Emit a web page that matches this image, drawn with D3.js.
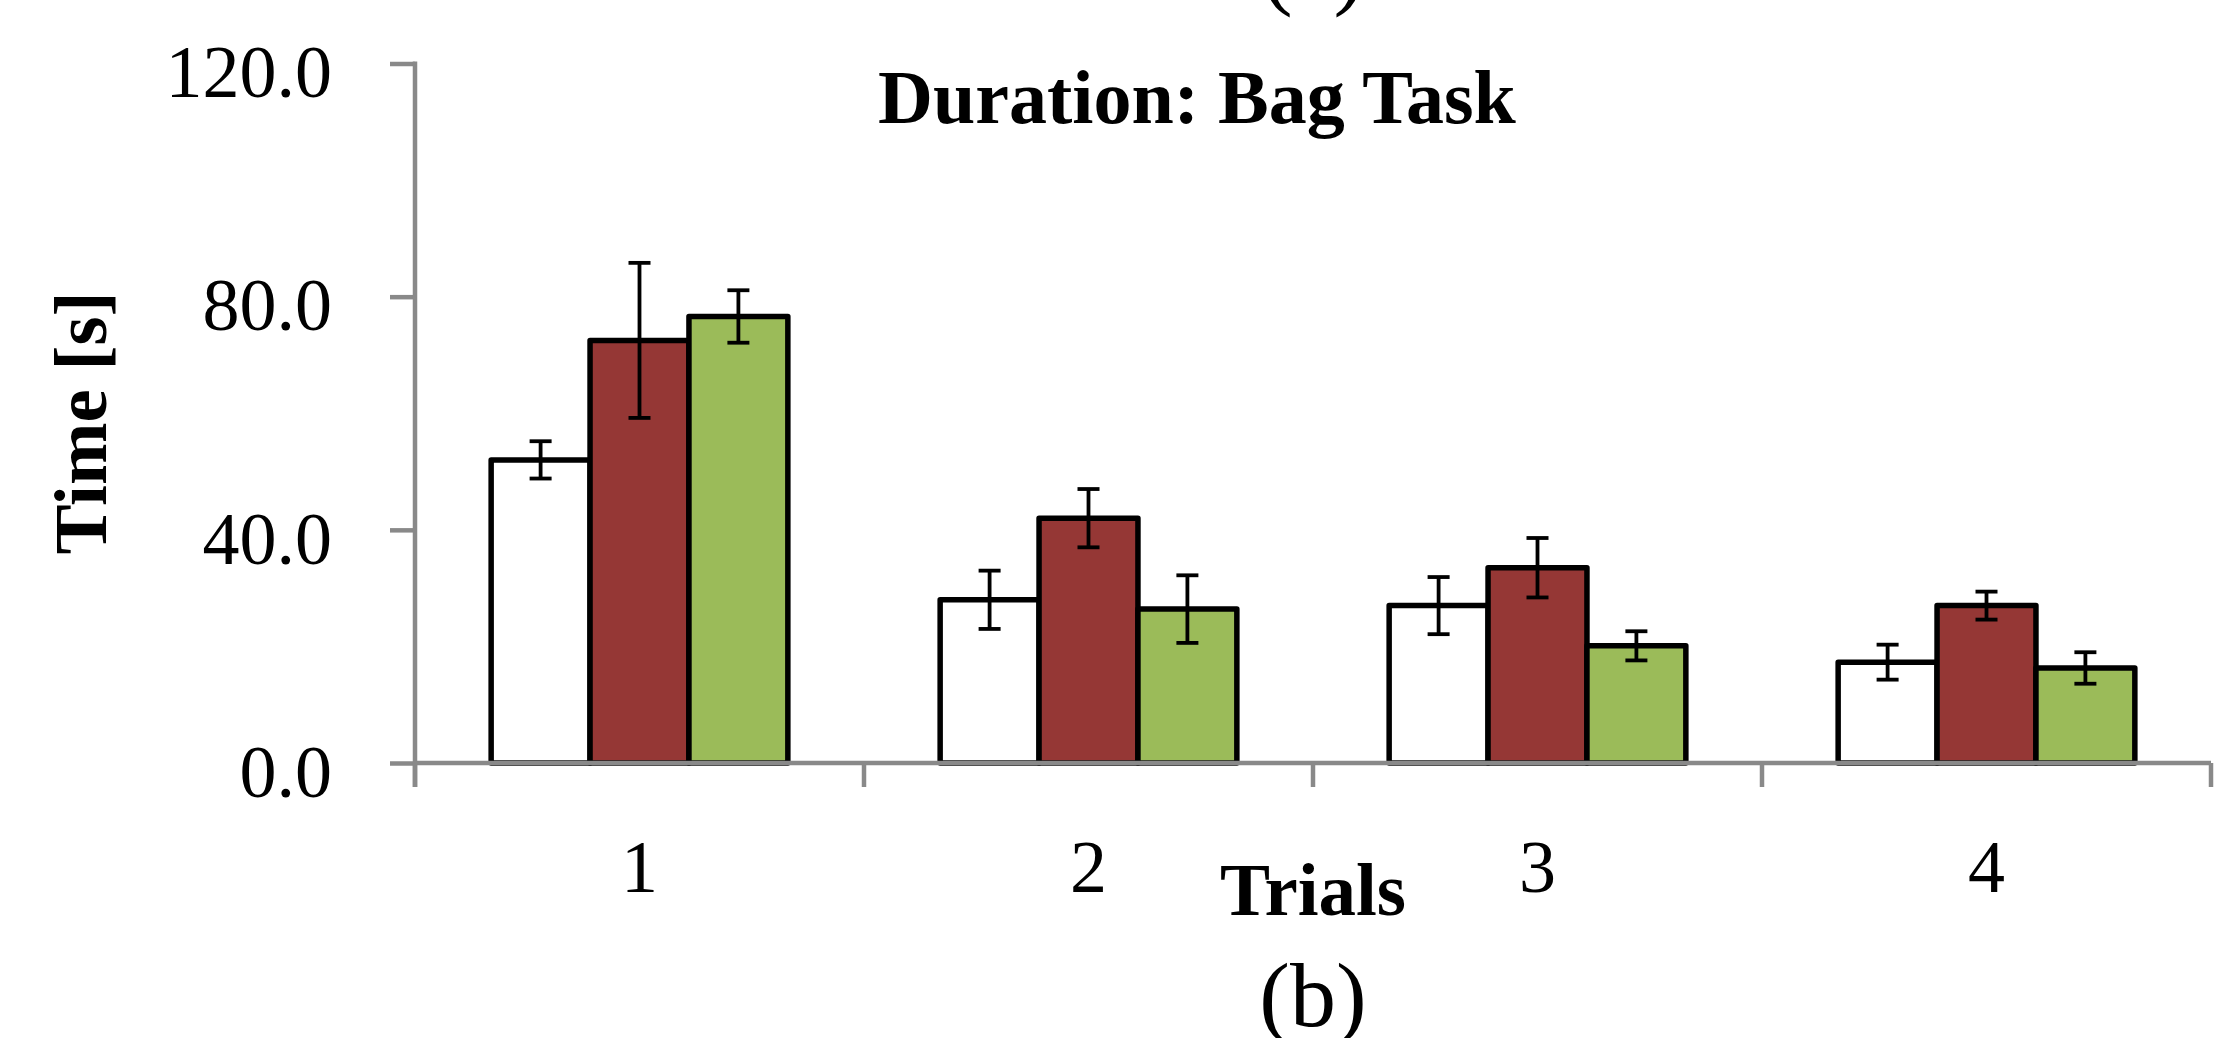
<!DOCTYPE html>
<html>
<head>
<meta charset="utf-8">
<script src="https://cdn.jsdelivr.net/npm/d3@7"></script>
<style>
  html, body { margin: 0; padding: 0; background: #fff; }
  svg { display: block; }
</style>
</head>
<body>
<svg id="chart" width="2220" height="1038"></svg>
<script>
// ---- data ----
const trials = ["1", "2", "3", "4"];
const seriesNames = ["S1", "S2", "S3"];
const seriesColors = ["#ffffff", "#953735", "#9bbb59"];
const s1Values = [52.0, 28.0, 27.0, 17.3];
const s1Errors = [3.2, 5.0, 4.9, 3.0];
const s2Values = [72.5, 42.0, 33.5, 27.0];
const s2Errors = [13.3, 5.0, 5.1, 2.4];
const s3Values = [76.6, 26.4, 20.1, 16.3];
const s3Errors = [4.5, 5.8, 2.5, 2.7];
const yTicks = [0, 40, 80, 120];
const titleText = "Duration: Bag Task";
const xTitle = "Trials";
const yTitle = "Time [s]";

(function () {
const values = [s1Values, s2Values, s3Values];
const errors = [s1Errors, s2Errors, s3Errors];
const rows = [];
trials.forEach((t, i) => {
  seriesNames.forEach((s, j) => {
    rows.push({trial: t, series: s, idx: j, value: values[j][i], err: errors[j][i]});
  });
});

// ---- layout ----
const svg = d3.select("#chart");
const mLeft = 415, mRight = 2211, mTop = 63.5, mBottom = 763;
const serif = "'Liberation Serif', 'Times New Roman', Times, serif";
const axisColor = "#898989";

const x = d3.scaleBand().domain(trials).range([mLeft, mRight]).paddingInner(0).paddingOuter(0);
const xs = d3.scaleBand().domain(seriesNames).range([0, x.bandwidth()]).paddingInner(0).paddingOuter(0.77);
const y = d3.scaleLinear().domain([0, 120]).range([mBottom, mTop]);

// bars
svg.append("g").selectAll("rect").data(rows).join("rect")
  .attr("x", d => x(d.trial) + xs(d.series))
  .attr("y", d => y(d.value))
  .attr("width", xs.bandwidth())
  .attr("height", d => y(0) - y(d.value))
  .attr("fill", d => seriesColors[d.idx])
  .attr("stroke", "#000")
  .attr("stroke-width", 5.5)
  .attr("stroke-linejoin", "round");

// error bars
const eb = svg.append("g").attr("stroke", "#000").attr("stroke-width", 3.8);
const capW = 22;
rows.forEach(d => {
  const cx = x(d.trial) + xs(d.series) + xs.bandwidth() / 2;
  eb.append("line").attr("x1", cx).attr("x2", cx)
    .attr("y1", y(d.value + d.err)).attr("y2", y(d.value - d.err));
  eb.append("line").attr("x1", cx - capW / 2).attr("x2", cx + capW / 2)
    .attr("y1", y(d.value + d.err)).attr("y2", y(d.value + d.err));
  eb.append("line").attr("x1", cx - capW / 2).attr("x2", cx + capW / 2)
    .attr("y1", y(d.value - d.err)).attr("y2", y(d.value - d.err));
});

// y axis
const yAxis = svg.append("g")
  .attr("transform", `translate(${mLeft},0)`)
  .call(d3.axisLeft(y).tickValues(yTicks).tickFormat(d3.format(".1f"))
        .tickSize(25).tickSizeOuter(0).tickPadding(58));
yAxis.select(".domain").remove();
yAxis.selectAll(".tick line").attr("stroke", axisColor).attr("stroke-width", 4.5);
yAxis.selectAll(".tick text")
  .attr("font-family", serif).attr("font-size", 74).attr("fill", "#000")
  .attr("dy", "0.45em");
svg.append("line")
  .attr("x1", mLeft).attr("x2", mLeft)
  .attr("y1", y(120) - 2).attr("y2", y(0) + 24)
  .attr("stroke", axisColor).attr("stroke-width", 4.5);

// x axis
const xAxis = svg.append("g")
  .attr("transform", `translate(0,${mBottom})`)
  .call(d3.axisBottom(x).tickSize(0).tickSizeOuter(0).tickPadding(76));
xAxis.select(".domain").remove();
xAxis.selectAll(".tick text")
  .attr("font-family", serif).attr("font-size", 74).attr("fill", "#000");
svg.append("line")
  .attr("x1", mLeft).attr("x2", mRight)
  .attr("y1", mBottom).attr("y2", mBottom)
  .attr("stroke", axisColor).attr("stroke-width", 4.5);
const boundaries = trials.map(t => x(t)).concat([x(trials[trials.length - 1]) + x.bandwidth()]);
svg.append("g").selectAll("line").data(boundaries).join("line")
  .attr("x1", d => d).attr("x2", d => d)
  .attr("y1", mBottom).attr("y2", mBottom + 24)
  .attr("stroke", axisColor).attr("stroke-width", 4.5);

// titles
svg.append("text")
  .attr("x", 1197).attr("y", 123)
  .attr("text-anchor", "middle")
  .attr("font-family", serif).attr("font-weight", "bold").attr("font-size", 76)
  .text(titleText);

svg.append("text")
  .attr("x", 1313).attr("y", 915)
  .attr("text-anchor", "middle")
  .attr("font-family", serif).attr("font-weight", "bold").attr("font-size", 75)
  .text(xTitle);

svg.append("text")
  .attr("transform", `translate(106,423) rotate(-90)`)
  .attr("text-anchor", "middle")
  .attr("font-family", serif).attr("font-weight", "bold").attr("font-size", 75)
  .text(yTitle);

svg.append("text")
  .attr("x", 1313).attr("y", 1026)
  .attr("text-anchor", "middle")
  .attr("font-family", serif).attr("font-size", 92)
  .text("(b)");

svg.append("text")
  .attr("x", 1313).attr("y", -2)
  .attr("text-anchor", "middle")
  .attr("font-family", serif).attr("font-size", 92)
  .text("(a)");
})();
</script>
</body>
</html>
